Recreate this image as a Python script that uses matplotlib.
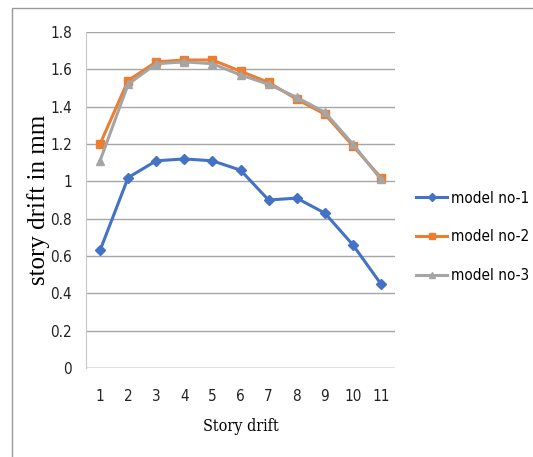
import matplotlib
matplotlib.use("Agg")
import matplotlib.pyplot as plt
from matplotlib import font_manager
from matplotlib.patches import Rectangle
import numpy as np

stories = [1, 2, 3, 4, 5, 6, 7, 8, 9, 10, 11]
model1 = [0.63, 1.02, 1.11, 1.12, 1.11, 1.06, 0.90, 0.91, 0.83, 0.66, 0.45]
model2 = [1.20, 1.54, 1.64, 1.65, 1.65, 1.59, 1.53, 1.44, 1.36, 1.19, 1.02]
model3 = [1.11, 1.52, 1.63, 1.64, 1.63, 1.57, 1.52, 1.45, 1.37, 1.20, 1.01]
names = ["model no-1", "model no-2", "model no-3"]

W, H = 533, 457
fig = plt.figure(figsize=(W / 100, H / 100), dpi=100)
# outer frame, open at the right and bottom
fig.patches.append(Rectangle((12 / W, -0.1), 1.2, (H - 8) / H + 0.1,
                             transform=fig.transFigure, fill=False,
                             edgecolor="#9a9a9a", linewidth=1.0))

ax = fig.add_axes([86 / W, 1 - 368 / H, (395 - 86) / W, (368 - 32) / H])

tick_font = {"family": "DejaVu Sans", "stretch": "condensed", "size": 11}
ax.plot(stories, model1, color="#4472C4", lw=2.2, marker="D", ms=5, label=names[0])
ax.plot(stories, model2, color="#ED7D31", lw=2.2, marker="s", ms=6, label=names[1])
ax.plot(stories, model3, color="#A5A5A5", lw=2.2, marker="^", ms=6, label=names[2])

ax.set_xlim(0.5, 11.5)
ax.set_ylim(0, 1.8)
ax.set_yticks(np.arange(0, 1.81, 0.2))
ax.set_yticklabels(["0", "0.2", "0.4", "0.6", "0.8", "1", "1.2", "1.4", "1.6", "1.8"])
ax.set_xticks(stories)
ax.grid(axis="y", color="#a6a6a6", lw=1.0)
ax.set_axisbelow(True)
for s in ["top", "right", "bottom"]:
    ax.spines[s].set_visible(False)
ax.spines["left"].set_color("#c8c8c8")
ax.axhline(0, color="#a6a6a6", lw=1.0)
ax.tick_params(axis="both", length=0, colors="#222222")
ax.tick_params(axis="x", pad=15)
ax.tick_params(axis="y", pad=10)
for t in ax.get_xticklabels() + ax.get_yticklabels():
    t.set_fontproperties(font_manager.FontProperties(**tick_font))

ax.set_ylabel("story drift in mm", family="Liberation Serif", fontsize=18, labelpad=0)
ax.set_xlabel("Story drift", family="DejaVu Serif", stretch="condensed",
              fontsize=11.5, labelpad=10)

ax.legend(loc="center left", bbox_to_anchor=(1.025, 0.39), frameon=False,
          prop=font_manager.FontProperties(**tick_font), handlelength=2.0,
          handletextpad=0.25, labelspacing=1.55, markerscale=0.8)

fig.savefig("out.png", dpi=100)
